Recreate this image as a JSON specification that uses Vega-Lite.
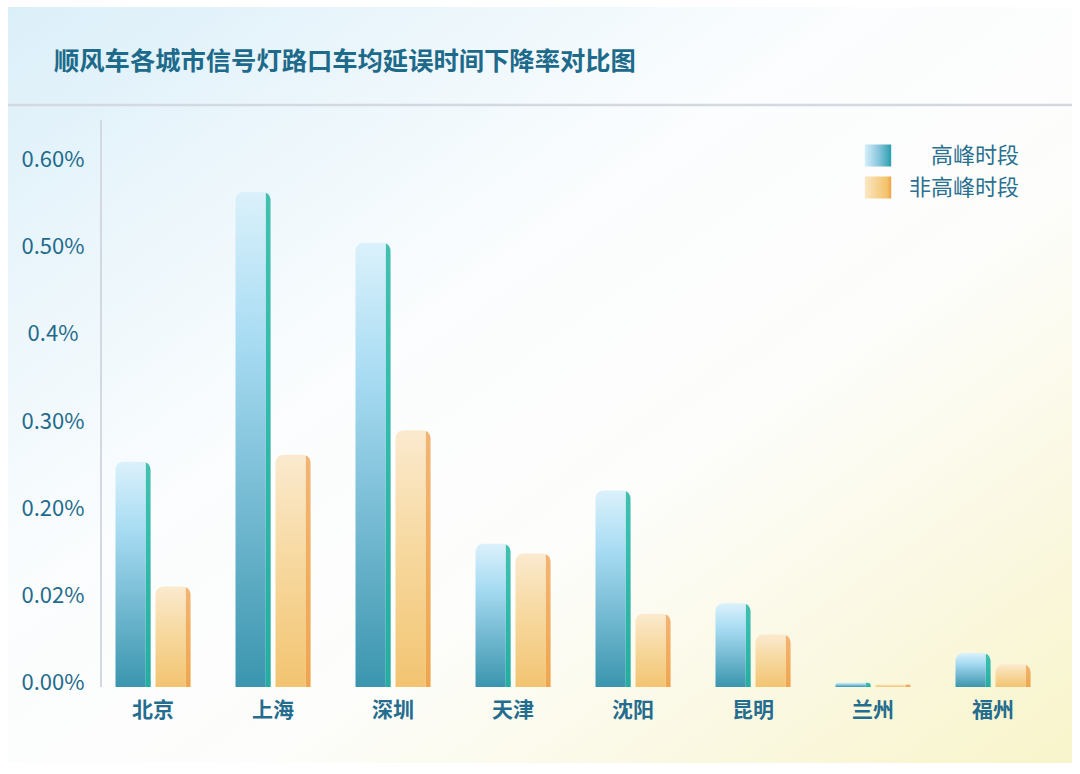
{
  "$schema": "https://vega.github.io/schema/vega-lite/v6.json",
  "width": 1064,
  "height": 756,
  "autosize": {"type": "none"},
  "padding": {"left": 8, "top": 7, "right": 8, "bottom": 11},
  "background": "#ffffff",
  "view": {
    "stroke": null,
    "fill": {
      "gradient": "linear", "x1": 0, "y1": 0, "x2": 1, "y2": 1,
      "stops": [
        {"offset": 0, "color": "#dbeff9"},
        {"offset": 0.4, "color": "#fbfdfe"},
        {"offset": 0.62, "color": "#fdfdfb"},
        {"offset": 1, "color": "#f8f4ca"}
      ]
    }
  },
  "title": {
    "text": "顺风车各城市信号灯路口车均延误时间下降率对比图",
    "anchor": "start",
    "frame": "group",
    "dx": 46,
    "offset": -93,
    "baseline": "bottom",
    "font": "Noto Sans CJK SC",
    "fontSize": 25.3,
    "fontWeight": "bold",
    "color": "#1d6a8a"
  },
  "data": {
    "values": [
      {"city": "北京", "series": "高峰时段", "value": 0.258},
      {"city": "北京", "series": "非高峰时段", "value": 0.115},
      {"city": "上海", "series": "高峰时段", "value": 0.567},
      {"city": "上海", "series": "非高峰时段", "value": 0.266},
      {"city": "深圳", "series": "高峰时段", "value": 0.509},
      {"city": "深圳", "series": "非高峰时段", "value": 0.294},
      {"city": "天津", "series": "高峰时段", "value": 0.164},
      {"city": "天津", "series": "非高峰时段", "value": 0.153},
      {"city": "沈阳", "series": "高峰时段", "value": 0.225},
      {"city": "沈阳", "series": "非高峰时段", "value": 0.084},
      {"city": "昆明", "series": "高峰时段", "value": 0.096},
      {"city": "昆明", "series": "非高峰时段", "value": 0.060},
      {"city": "兰州", "series": "高峰时段", "value": 0.005},
      {"city": "兰州", "series": "非高峰时段", "value": 0.003},
      {"city": "福州", "series": "高峰时段", "value": 0.039},
      {"city": "福州", "series": "非高峰时段", "value": 0.026}
    ]
  },
  "layer": [
    {
      "data": {"values": [{}]},
      "mark": {"type": "rule", "color": "#d4d9e1", "strokeWidth": 2.5},
      "encoding": {"y": {"datum": 0.6667, "type": "quantitative"}}
    },
    {
      "data": {"values": [{}]},
      "mark": {"type": "rule", "color": "#d4d9e1", "strokeWidth": 2},
      "encoding": {
        "x": {"datum": "北京", "type": "nominal", "bandPosition": -0.1933},
        "y": {"datum": 0, "type": "quantitative"},
        "y2": {"datum": 0.6495}
      }
    },
    {
      "mark": {"type": "bar", "cornerRadiusTopLeft": 8, "cornerRadiusTopRight": 8},
      "encoding": {
        "x": {
          "field": "city",
          "type": "nominal",
          "scale": {
            "domain": ["北京", "上海", "深圳", "天津", "沈阳", "昆明", "兰州", "福州"],
            "paddingInner": 0.375,
            "paddingOuter": 0.62083,
            "align": 0.7215
          },
          "axis": {
            "orient": "bottom",
            "offset": -76,
            "title": null,
            "domain": false,
            "ticks": false,
            "labelAngle": 0,
            "labelAlign": "center",
            "labelBaseline": "top",
            "labelPadding": 12,
            "labelFont": "Noto Sans CJK SC",
            "labelFontSize": 21,
            "labelFontWeight": "bold",
            "labelColor": "#256d8e"
          }
        },
        "xOffset": {
          "field": "series",
          "type": "nominal",
          "scale": {"domain": ["高峰时段", "非高峰时段"], "paddingInner": 0.125, "paddingOuter": 0}
        },
        "y": {
          "field": "value",
          "type": "quantitative",
          "stack": null,
          "scale": {"domain": [-0.08706, 0.77892], "nice": false, "zero": false},
          "axis": {
            "offset": -93,
            "title": null,
            "values": [0, 0.1, 0.2, 0.3, 0.4, 0.5, 0.6],
            "labelExpr": "['0.00%', '0.02%', '0.20%', '0.30%', '0.4%', '0.50%', '0.60%'][round(datum.value * 10)]",
            "domain": false,
            "ticks": false,
            "grid": false,
            "labelAlign": "center",
            "labelBaseline": "middle",
            "labelPadding": 48.5,
            "labelOffset": -4,
            "labelFont": "Noto Sans CJK SC",
            "labelFontSize": 22,
            "labelColor": "#1f6b8c"
          }
        },
        "color": {
          "condition": {
            "test": "datum.series === '高峰时段'",
            "value": {
              "gradient": "linear", "x1": 0, "y1": 0, "x2": 0, "y2": 1,
              "stops": [
                {"offset": 0, "color": "#dbf1fb"},
                {"offset": 0.3, "color": "#a8dcf3"},
                {"offset": 1, "color": "#3b95ae"}
              ]
            }
          },
          "value": {
            "gradient": "linear", "x1": 0, "y1": 0, "x2": 0, "y2": 1,
            "stops": [
              {"offset": 0, "color": "#fbeacf"},
              {"offset": 0.45, "color": "#f7d9a0"},
              {"offset": 1, "color": "#f2c471"}
            ]
          }
        }
      }
    },
    {
      "mark": {"type": "bar", "cornerRadiusTopLeft": 8, "cornerRadiusTopRight": 8},
      "encoding": {
        "x": {"field": "city", "type": "nominal"},
        "xOffset": {"field": "series", "type": "nominal"},
        "y": {"field": "value", "type": "quantitative", "stack": null},
        "color": {
          "condition": {
            "test": "datum.series === '高峰时段'",
            "value": {
              "gradient": "linear", "x1": 0, "y1": 0, "x2": 1, "y2": 0,
              "stops": [
                {"offset": 0, "color": "rgba(255,255,255,0)"},
                {"offset": 0.855, "color": "rgba(255,255,255,0)"},
                {"offset": 0.86, "color": "rgba(28,180,155,0.8)"},
                {"offset": 1, "color": "rgba(28,180,155,0.8)"}
              ]
            }
          },
          "value": {
            "gradient": "linear", "x1": 0, "y1": 0, "x2": 1, "y2": 0,
            "stops": [
              {"offset": 0, "color": "rgba(255,255,255,0)"},
              {"offset": 0.855, "color": "rgba(255,255,255,0)"},
              {"offset": 0.86, "color": "rgba(238,145,55,0.6)"},
              {"offset": 1, "color": "rgba(238,145,55,0.6)"}
            ]
          }
        }
      }
    },
    {
      "mark": {
        "type": "point",
        "filled": true,
        "opacity": 0,
        "size": 484,
        "fill": {"expr": "(datum.value === '高峰时段' || datum.series === '高峰时段') ? {gradient: 'linear', x1: 0, y1: 0, x2: 1, y2: 0, stops: [{offset: 0, color: '#d6effb'}, {offset: 0.55, color: '#84c4da'}, {offset: 1, color: '#2a9fae'}]} : {gradient: 'linear', x1: 0, y1: 0, x2: 1, y2: 0, stops: [{offset: 0, color: '#fbe7c6'}, {offset: 0.85, color: '#f3c268'}, {offset: 1, color: '#f0a04a'}]}"}
      },
      "encoding": {
        "x": {"field": "city", "type": "nominal"},
        "xOffset": {"field": "series", "type": "nominal"},
        "y": {"field": "value", "type": "quantitative", "stack": null},
        "shape": {
          "field": "series",
          "type": "nominal",
          "scale": {
            "domain": ["高峰时段", "非高峰时段"],
            "range": ["M-1.2,-1H1.2V1H-1.2Z", "M-1.2,-1H1.2V1H-1.2Z"]
          },
          "legend": {
            "orient": "none",
            "legendX": 859,
            "legendY": 137.5,
            "title": null,
            "padding": 0,
            "symbolSize": 484,
            "symbolStrokeWidth": 0,
            "symbolOpacity": 1,
            "labelAlign": "right",
            "labelBaseline": "middle",
            "labelOffset": 130,
            "labelLimit": 300,
            "labelFont": "Noto Sans CJK SC",
            "labelFontSize": 22,
            "labelColor": "#2a7090",
            "rowPadding": 10
          }
        }
      }
    }
  ]
}
